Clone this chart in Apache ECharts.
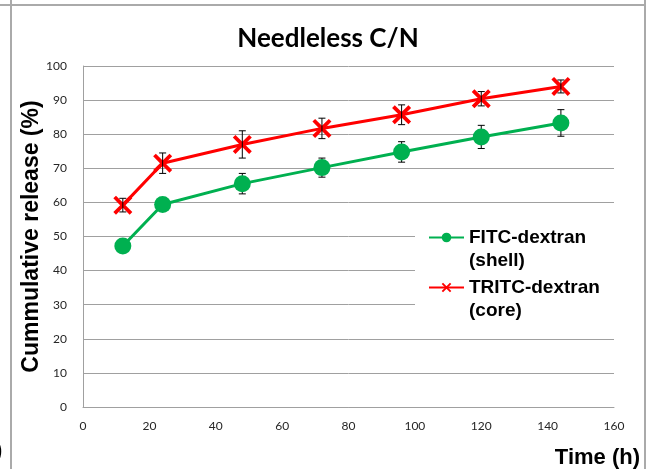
<!DOCTYPE html>
<html>
<head>
<meta charset="utf-8">
<script src="https://cdn.jsdelivr.net/npm/echarts@6/dist/echarts.min.js"></script>
<style>
  html, body { margin: 0; padding: 0; background: #fff; }
  #chart { width: 656px; height: 469px; }
</style>
</head>
<body>
<div id="chart"></div>
<script>
// Release time points (hours)
const hours = [12, 24, 48, 72, 96, 120, 144];

// FITC-dextran (shell) cumulative release, % and standard deviation
const fitcRelease = [47.2, 59.4, 65.5, 70.2, 74.8, 79.2, 83.3];
const fitcError   = [1.5, 1.8, 3.0, 2.8, 3.0, 3.4, 3.9];

// TRITC-dextran (core) cumulative release, % and standard deviation
const tritcRelease = [59.2, 71.5, 77.0, 81.7, 85.7, 90.4, 94.0];
const tritcError   = [2.0, 3.0, 4.0, 3.0, 2.9, 2.1, 1.9];

// Axis ticks
const xTicks = { min: 0, max: 160, interval: 20 };
const yTicks = { min: 0, max: 100, interval: 10 };

const seriesNames = ['FITC-dextran', 'TRITC-dextran'];
const seriesNotes = { 'FITC-dextran': '(shell)', 'TRITC-dextran': '(core)' };

const GREEN = '#00B050';
const RED = '#FF0000';

// Filled "X" marker
const crossSymbol = 'path://M0,1.4 L1.4,0 L5,3.6 L8.6,0 L10,1.4 L6.4,5 L10,8.6 L8.6,10 L5,6.4 L1.4,10 L0,8.6 L3.6,5 Z';

function pairs(xs, ys) { return xs.map((x, i) => [x, ys[i]]); }
function errorRows(xs, ys, es) { return xs.map((x, i) => [x, ys[i] - es[i], ys[i] + es[i]]); }

// Error bar with caps, drawn through the axis scales
function renderErrorBar(params, api) {
  const x = api.value(0);
  const lo = api.coord([x, api.value(1)]);
  const hi = api.coord([x, api.value(2)]);
  const cap = 3.5;
  const style = { stroke: '#000', lineWidth: 1 };
  return {
    type: 'group',
    children: [
      { type: 'line', shape: { x1: lo[0], y1: lo[1], x2: hi[0], y2: hi[1] }, style },
      { type: 'line', shape: { x1: lo[0] - cap, y1: lo[1], x2: lo[0] + cap, y2: lo[1] }, style },
      { type: 'line', shape: { x1: hi[0] - cap, y1: hi[1], x2: hi[0] + cap, y2: hi[1] }, style }
    ]
  };
}

const legendText = {
  fontFamily: 'Liberation Sans, Arial, sans-serif',
  fontWeight: 'bold',
  fontSize: 19,
  lineHeight: 23,
  color: '#000'
};

function legendFor(name, top) {
  return {
    data: [name],
    left: 428,
    top: top,
    padding: 0,
    orient: 'vertical',
    itemWidth: 35,
    itemHeight: 12,
    itemGap: 4,
    selectedMode: false,
    textStyle: legendText,
    // blank first line keeps the icon level with the series name
    formatter: n => '\n' + n + '\n' + seriesNotes[n]
  };
}

const chart = echarts.init(document.getElementById('chart'), null, { renderer: 'canvas' });

chart.setOption({
  animation: false,
  backgroundColor: '#fff',
  title: {
    text: 'Needleless C/N',
    left: 'center',
    top: 21,
    textStyle: {
      fontFamily: 'Lato, Open Sans, sans-serif',
      fontWeight: 'bold',
      fontSize: 26,
      color: '#000'
    }
  },
  grid: { left: 83, right: 42, top: 66, bottom: 62, containLabel: false },
  xAxis: {
    type: 'value',
    min: xTicks.min, max: xTicks.max, interval: xTicks.interval,
    name: 'Time (h)',
    nameLocation: 'end',
    nameGap: 0,
    nameTextStyle: {
      fontFamily: 'Liberation Sans, Arial, sans-serif',
      fontWeight: 'bold',
      fontSize: 22,
      color: '#000',
      align: 'right',
      verticalAlign: 'top',
      padding: [40, -26, 0, 0]
    },
    axisLine: { show: true, lineStyle: { color: '#A0A0A0', width: 1 } },
    axisTick: { show: false },
    splitLine: { show: false },
    axisLabel: {
      margin: 13,
      fontFamily: 'Lato, sans-serif',
      fontSize: 12,
      color: '#262626'
    }
  },
  yAxis: {
    type: 'value',
    min: yTicks.min, max: yTicks.max, interval: yTicks.interval,
    name: 'Cummulative release (%)',
    nameLocation: 'middle',
    nameGap: 40,
    nameMoveOverlap: false,
    nameTextStyle: {
      fontFamily: 'Liberation Sans, Arial, sans-serif',
      fontWeight: 'bold',
      fontSize: 23,
      color: '#000'
    },
    axisLine: { show: true, lineStyle: { color: '#A0A0A0', width: 1 } },
    axisTick: { show: false },
    splitLine: { show: true, lineStyle: { color: '#A0A0A0', width: 1 } },
    axisLabel: {
      margin: 16,
      fontFamily: 'Lato, sans-serif',
      fontSize: 12,
      color: '#262626'
    }
  },
  legend: [legendFor(seriesNames[0], 203), legendFor(seriesNames[1], 253)],
  graphic: [
    // legend panel background
    { type: 'rect', z: 1, shape: { x: 415, y: 223, width: 200, height: 98 }, style: { fill: '#fff' } },
    // surrounding frame
    { type: 'line', z: 10, shape: { x1: 0, y1: 5, x2: 645, y2: 5 }, style: { stroke: '#AAAAAA', lineWidth: 2 } },
    { type: 'line', z: 10, shape: { x1: 11, y1: 0, x2: 11, y2: 469 }, style: { stroke: '#AAAAAA', lineWidth: 2 } },
    { type: 'line', z: 10, shape: { x1: 645, y1: 0, x2: 645, y2: 469 }, style: { stroke: '#AAAAAA', lineWidth: 2 } },
    { type: 'text', z: 10, left: -5, top: 440, style: { text: ')', fontFamily: 'Liberation Sans, Arial, sans-serif', fontWeight: 'bold', fontSize: 22, fill: '#000' } }
  ],
  series: [
    {
      name: 'FITC-dextran error',
      type: 'custom',
      renderItem: renderErrorBar,
      data: errorRows(hours, fitcRelease, fitcError),
      encode: { x: 0, y: [1, 2] },
      z: 2
    },
    {
      name: 'TRITC-dextran error',
      type: 'custom',
      renderItem: renderErrorBar,
      data: errorRows(hours, tritcRelease, tritcError),
      encode: { x: 0, y: [1, 2] },
      z: 2
    },
    {
      name: seriesNames[0],
      type: 'line',
      data: pairs(hours, fitcRelease),
      symbol: 'circle',
      symbolSize: 17,
      showAllSymbol: true,
      lineStyle: { color: GREEN, width: 3 },
      itemStyle: { color: GREEN },
      z: 3
    },
    {
      name: seriesNames[1],
      type: 'line',
      data: pairs(hours, tritcRelease),
      symbol: crossSymbol,
      symbolSize: 19,
      showAllSymbol: true,
      lineStyle: { color: RED, width: 3 },
      itemStyle: { color: RED },
      z: 1
    }
  ]
});
</script>
</body>
</html>
